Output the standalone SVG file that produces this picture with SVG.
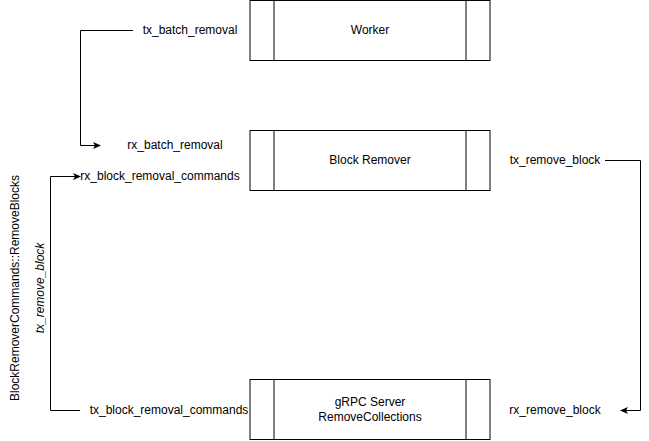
<svg xmlns="http://www.w3.org/2000/svg" width="649" height="441" viewBox="0 0 649 441">
<style>
text{font-family:"Liberation Sans",Arial,sans-serif;font-size:12px;fill:#000}
.box{fill:#fff;stroke:#000;stroke-width:1}
.c{fill:none;stroke:#000;stroke-width:1}
</style>
<defs><marker id="a" markerWidth="8" markerHeight="8" refX="7" refY="4" orient="auto" markerUnits="userSpaceOnUse"><path d="M0,0.5 L8,4 L0,7.5 L2,4 Z" fill="#000"/></marker></defs>
<rect width="649" height="441" fill="#fff"/>
<g id="worker"><rect class="box" x="250" y="0.5" width="240" height="60"/><line class="c" x1="274" y1="0.5" x2="274" y2="60.5"/><line class="c" x1="466" y1="0.5" x2="466" y2="60.5"/><text x="370" y="34" text-anchor="middle">Worker</text></g>
<g id="blockremover"><rect class="box" x="250" y="130.5" width="240" height="60"/><line class="c" x1="274" y1="130.5" x2="274" y2="190.5"/><line class="c" x1="466" y1="130.5" x2="466" y2="190.5"/><text x="370" y="164" text-anchor="middle">Block Remover</text></g>
<g id="grpc"><rect class="box" x="250" y="379.5" width="240" height="60"/><line class="c" x1="274" y1="379.5" x2="274" y2="439.5"/><line class="c" x1="466" y1="379.5" x2="466" y2="439.5"/><text x="370" y="406" text-anchor="middle">gRPC Server</text><text x="370" y="421" text-anchor="middle">RemoveCollections</text></g>
<g id="connectors">
<path class="c" d="M133,30.5 H80.5 V145.5 H100" marker-end="url(#a)"/>
<path class="c" d="M605,160.5 H640.5 V410.5 H621" marker-end="url(#a)"/>
<path class="c" d="M80,410.5 H50.5 V176.5 H80" marker-end="url(#a)"/>
</g>
<g id="labels">
<text x="190" y="34" text-anchor="middle">tx_batch_removal</text>
<text x="175" y="149" text-anchor="middle">rx_batch_removal</text>
<text x="160" y="180" text-anchor="middle">rx_block_removal_commands</text>
<text x="555" y="164" text-anchor="middle">tx_remove_block</text>
<text x="555" y="414" text-anchor="middle">rx_remove_block</text>
<text x="169" y="414" text-anchor="middle">tx_block_removal_commands</text>
<text transform="translate(19,288) rotate(-90)" text-anchor="middle">BlockRemoverCommands::RemoveBlocks</text>
<text transform="translate(44,288) rotate(-90)" text-anchor="middle" font-style="italic">tx_remove_block</text>
</g>
</svg>
